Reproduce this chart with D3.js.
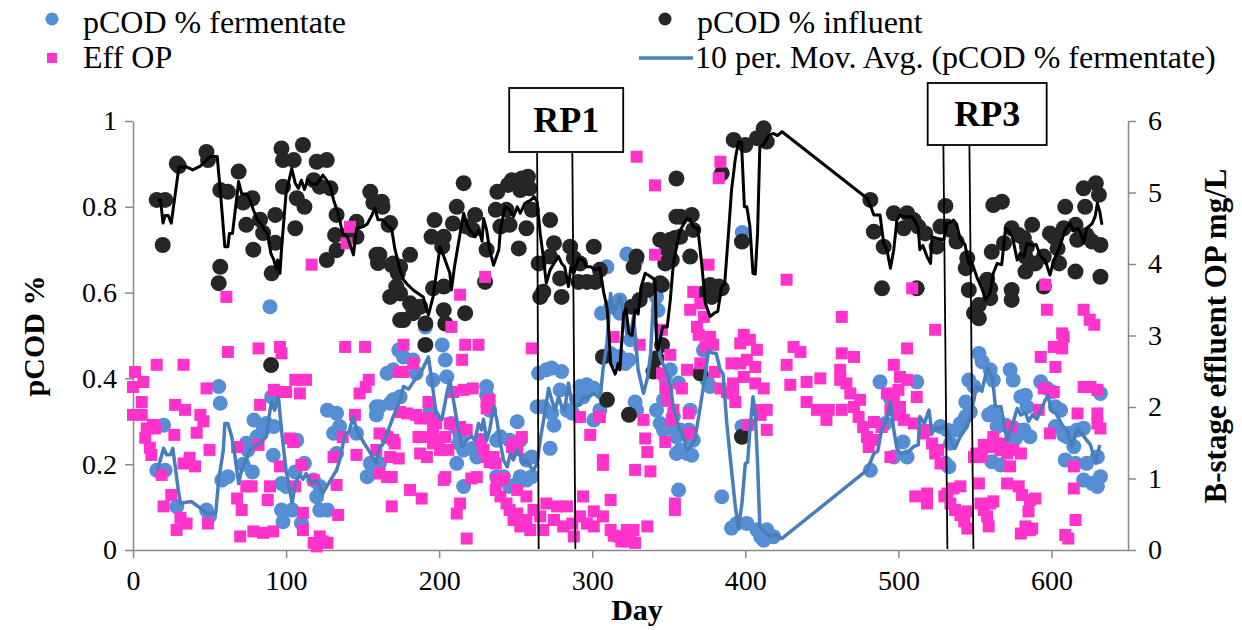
<!DOCTYPE html>
<html><head><meta charset="utf-8">
<script src="https://cdn.jsdelivr.net/npm/d3@7"></script>
<style>
html,body{margin:0;padding:0;background:#fff;}
svg{display:block;}
</style></head><body>
<svg id="chart" width="1242" height="630" font-family="'Liberation Serif','Times New Roman',serif"></svg>
<script>
// pCOD fraction of the fermentate, [day, fraction]
const fermentate = [
[15.5,0.186],[21,0.186],[20,0.291],[28.6,0.101],[48,0.093],[50,0.078],[56,0.381],[57,0.342],[58,0.163],[62,0.171],
[72,0.2],[74,0.249],[75,0.233],[78,0.182],[79,0.303],[81,0.264],[85,0.28],[87,0.295],[90.6,0.357],[92,0.288],
[91.6,0.221],[89.5,0.567],[97,0.155],[100,0.148],[97,0.093],[98,0.066],[104,0.093],[110,0.063],[106,0.182],[107,0.256],
[112,0.202],[118,0.163],[120,0.124],[122,0.148],[122,0.093],[127,0.093],[127,0.326],[131,0.272],[133,0.319],[133,0.225],
[135,0.288],[146,0.272],[153,0.171],[155,0.202],[157,0.194],[159,0.315],[159,0.334],[166,0.412],[168,0.342],[170,0.42],
[170,0.35],[173.6,0.466],[161,0.334],[161,0.202],[166,0.264],[174.5,0.357],[176.7,0.45],[183,0.443],[185,0.412],[191,0.52],
[194,0.326],[196,0.311],[196,0.396],[202,0.478],[204,0.443],[205,0.404],[208,0.295],[211.5,0.284],[213.7,0.268],[212.7,0.249],
[216,0.233],[211.5,0.202],[216,0.148],[222,0.237],[227,0.256],[224.6,0.217],[231,0.381],[231,0.361],[233,0.326],[237.6,0.256],
[240,0.264],[237.6,0.171],[242,0.171],[246,0.148],[251,0.155],[251,0.299],[246,0.256],[248.6,0.241],[253,0.256],[257,0.21],
[260.5,0.217],[253,0.171],[257,0.163],[260.5,0.171],[265,0.412],[270,0.42],[273.5,0.424],[280,0.416],[264,0.334],[268,0.334],
[273.5,0.319],[275,0.291],[279,0.373],[283.5,0.326],[287,0.319],[272.5,0.237],[292,0.381],[296.5,0.385],[301,0.377],[294,0.357],
[290,0.35],[301,0.303],[305,0.326],[312,0.458],[315,0.443],[318,0.451],[321.6,0.435],[324,0.443],[328,0.345],[329,0.326],
[342,0.326],[346.6,0.35],[349,0.288],[353,0.311],[347.7,0.404],[351,0.42],[356.4,0.389],[355,0.264],[357.5,0.28],[355,0.225],
[356.4,0.14],[306,0.552],[312,0.567],[318,0.583],[318,0.552],[309.6,0.66],[322.6,0.69],[329,0.676],[342,0.59],[343,0.559],
[325,0.49],[344.4,0.295],[346.6,0.28],[357.5,0.233],[362,0.225],[365,0.221],[364,0.326],[363,0.28],[366,0.256],[384.6,0.124],
[377,0.381],[372.7,0.466],[370.6,0.412],[375,0.396],[397.8,0.288],[398,0.74],[391,0.051],[394.5,0.062],[401,0.062],[407.6,0.047],
[412,0.023],[414,0.047],[418.5,0.031],[410,0.031],[481.7,0.186],[488,0.392],[494.8,0.354],[491.5,0.295],[497,0.217],[503,0.252],
[505.7,0.217],[512,0.392],[534,0.249],[527.5,0.288],[531.8,0.28],[530.7,0.202],[533,0.194],[538,0.28],[540.5,0.295],[544,0.311],
[544,0.345],[547,0.322],[546,0.396],[549.4,0.381],[552.6,0.458],[554.7,0.439],[560,0.42],[562,0.396],[559,0.315],[562,0.322],
[565.6,0.299],[570,0.291],[564.5,0.288],[561,0.206],[566.7,0.198],[573,0.42],[575,0.396],[580,0.357],[583,0.361],[584,0.334],
[586,0.264],[582,0.28],[576.5,0.26],[577.6,0.28],[593,0.392],[597,0.377],[600.4,0.369],[602.6,0.334],[606,0.326],[602.6,0.288],
[608,0.268],[610,0.264],[612,0.272],[609,0.21],[615.7,0.202],[614.6,0.241],[616.8,0.28],[621,0.284],[623,0.202],[630,0.217],
[632,0.365],[621,0.163],[626.6,0.155],[630,0.148],[632,0.171]
];

// pCOD fraction of the influent, [day, fraction]
const influent = [
[15.5,0.816],[21,0.816],[19.4,0.711],[28.6,0.901],[30,0.895],[48,0.928],[49,0.909],[69,0.882],[57,0.839],[62,0.835],
[57,0.66],[56,0.622],[72,0.81],[78,0.82],[74,0.758],[78.6,0.70],[83,0.77],[85,0.739],[93,0.781],[93,0.716],
[90.6,0.645],[97,0.936],[98,0.909],[105,0.909],[111,0.944],[98,0.847],[106,0.75],[107,0.82],[112,0.80],[118,0.862],
[120,0.905],[126.6,0.909],[122,0.847],[129,0.843],[126.6,0.676],[133,0.781],[132,0.734],[133,0.699],[140,0.734],[146,0.73],
[146,0.765],[155,0.835],[157,0.81],[162.5,0.812],[159,0.688],[160,0.669],[168,0.762],[169,0.664],[173,0.645],[168,0.59],
[172,0.614],[174.5,0.536],[90.2,0.431],[163,0.80],[167,0.758],[161,0.688],[170,0.668],[174.5,0.66],[181,0.688],[174.5,0.598],
[176.7,0.536],[183,0.552],[181,0.575],[187.6,0.567],[191,0.478],[191,0.528],[196,0.61],[195,0.73],[197,0.769],[203,0.73],
[202,0.707],[203,0.559],[204,0.528],[203,0.614],[216,0.855],[211.5,0.80],[209,0.761],[217,0.552],[223.5,0.781],[222,0.746],
[218,0.754],[231,0.70],[230,0.625],[238,0.835],[237,0.793],[245,0.851],[244,0.793],[240,0.754],[246,0.758],[247.5,0.862],
[254,0.866],[258,0.87],[253,0.839],[259,0.843],[260.5,0.793],[252,0.703],[257,0.75],[272.5,0.769],[265,0.668],[268,0.602],
[266,0.59],[280,0.59],[279,0.633],[275,0.715],[272.5,0.684],[285.6,0.707],[288,0.68],[292,0.668],[301,0.707],[291,0.625],
[296.5,0.625],[302,0.625],[305,0.653],[327,0.66],[329,0.684],[336,0.606],[331,0.583],[326,0.567],[345.5,0.618],[347.7,0.668],
[349,0.70],[351,0.723],[354,0.727],[355,0.777],[355,0.866],[307,0.45],[309.6,0.35],[324,0.315],[342,0.447],[345.6,0.478],
[340,0.416],[344.4,0.723],[349,0.715],[352,0.676],[357.5,0.73],[357.5,0.777],[365,0.781],[366,0.746],[364,0.684],[344.4,0.622],
[377,0.618],[382.6,0.614],[384.6,0.61],[378,0.59],[372.7,0.598],[384.6,0.878],[392.4,0.956],[400,0.944],[407.6,0.96],[412,0.983],
[414,0.952],[397.8,0.719],[370.6,0.412],[397.8,0.264],[481.7,0.816],[484,0.742],[490.4,0.707],[489.3,0.61],[497,0.785],[505.7,0.785],
[503.5,0.75],[510,0.769],[513,0.754],[512,0.61],[517.6,0.738],[525,0.707],[530.7,0.802],[531.8,0.754],[538,0.719],[527.5,0.754],
[534,0.746],[545,0.68],[544,0.657],[546,0.606],[552.6,0.571],[552.6,0.54],[549.4,0.552],[558,0.63],[560,0.61],[560,0.587],
[561,0.695],[569,0.715],[562,0.804],[567.6,0.812],[574,0.75],[578.6,0.734],[582,0.727],[587.4,0.758],[584,0.707],[583,0.684],
[574,0.606],[574,0.583],[583,0.649],[589.5,0.668],[595,0.684],[599,0.738],[601.5,0.73],[605,0.668],[604,0.703],[595,0.614],
[608,0.75],[609,0.80],[615.7,0.758],[616.8,0.723],[615.7,0.649],[622,0.80],[623,0.734],[626.6,0.719],[632,0.711],[632,0.637],
[621,0.843],[629,0.855],[631,0.828]
];

// B-stage effluent orthophosphate, [day, mg/L]
const effOP = [
[1.3,2.49],[0,2.28],[6.7,2.35],[5.7,2.07],[0,1.89],[5.7,1.89],[9,1.70],[13,1.75],[8,1.57],[11,1.43],
[12,1.33],[15.5,2.59],[14.4,1.70],[18.7,1.05],[20,0.61],[25,0.77],[27,1.61],[27.5,2.03],[31,0.45],[28.5,0.28],
[34,1.96],[35,0.37],[33,2.59],[33,1.21],[37,1.29],[40.5,1.17],[41.6,1.64],[44,1.89],[46,1.80],[48,2.26],
[50,1.40],[49,0.37],[62,2.77],[68,1.44],[68,0.72],[71,0.56],[70,0.19],[74,0.89],[77.5,0.89],[82,2.82],
[83,2.03],[82,1.47],[78.6,0.26],[85,0.24],[88,0.70],[89.5,0.89],[91.6,0.26],[96,2.84],[97,2.75],[92,2.24],
[97,2.21],[100,2.21],[96,1.17],[102.6,1.56],[104.6,1.51],[106,2.38],[113,2.38],[109,2.19],[106,0.89],[110,1.19],
[111,0.52],[111,0.28],[118,0.1],[122,0.19],[127,0.1],[120,0.05],[124,0.12],[118,0.98],[133,0.91],[134,0.49],
[131,1.30],[138.6,2.84],[151.6,2.84],[137,1.58],[145,1.89],[146,1.33],[148,2.19],[152,2.28],[154,2.38],[159,1.40],
[169,0.61],[116.7,3.99],[141.8,4.52],[139.5,4.29],[61,3.54],
[176.7,2.87],[183,2.61],[176.7,2.49],[173.6,2.49],[217,2.87],[225.7,2.87],[215,2.66],[260.5,2.82],[193,2.07],[209,2.21],
[216,2.24],[222,2.26],[231,2.07],[233,2.10],[231,1.98],[174.5,1.93],[179,1.91],[185,1.89],[187.6,1.84],[194,1.84],
[198,1.77],[161,1.63],[166,1.58],[171,1.49],[170,1.54],[168,1.30],[173.6,1.28],[161,1.07],[166,1.02],[169,1.02],
[186.5,1.58],[193,1.58],[196,1.68],[199.6,1.54],[204,1.58],[206,1.40],[200.6,1.40],[196,1.49],[187.6,1.35],[192,1.30],
[207,1.77],[213.7,1.72],[218,1.68],[203,0.98],[204,1.02],[221,1.00],[224.6,1.02],[227,1.54],[229,1.40],[231,1.30],
[235.5,1.30],[237,1.21],[233,1.23],[237.6,0.98],[242,1.00],[237,0.84],[240,0.75],[248.6,1.49],[254,1.58],[251,1.40],
[247.5,1.44],[251,0.84],[257,0.75],[244,0.65],[246,0.56],[251,0.51],[248.6,0.42],[253,0.33],[257,0.42],[261.6,0.56],
[259.5,0.28],[266,0.47],[268,0.28],[270,0.65],[275,0.42],[277,0.61],[281,0.33],[283.5,0.61],[287,0.37],[288,0.19],
[292,0.47],[294,0.75],[296.5,0.37],[301,0.54],[301,0.33],[307,0.47],[312,0.70],[312,0.28],[317,0.19],[322.6,0.28],
[327,0.28],[321.6,0.12],[336,0.33],[213.7,0.65],[211.5,0.51],[218,0.16],[181,0.84],[188.6,0.72],[292,1.86],[305,1.86],
[298.7,1.61],[307,1.26],[307,1.19],[333.5,1.82],[334.6,1.56],[336,1.37],[328,1.12],[338,1.10],[347.7,1.51],[349,2.10],
[353,1.96],[352,1.82],[351,2.73],[345.6,2.47],[349,2.24],[331,2.87],[354,0.65],[354,0.56],[319,0.12],[325,0.15],
[328,0.1],[314,0.2],
[329,5.50],[341,5.10],[230,3.82],[213.7,3.57],[208,3.12],[341,4.13],[314,2.98],[345.5,3.08],
[369.5,3.01],[377,2.98],[374,2.84],[379,2.87],[399,3.01],[403,2.94],[407.6,2.80],[396.7,2.89],[401,2.66],[396.7,2.61],
[406.5,2.56],[391,2.61],[399,2.42],[362,2.52],[370.6,2.61],[380,2.49],[347.7,2.28],[358.6,2.26],[383.7,2.26],[388,2.21],
[392,2.33],[392,2.19],[393.5,2.07],[406.5,2.33],[412,2.26],[414,1.96],[407.6,1.96],[363,1.91],[364,1.63],[402,1.75],
[410,1.89],[414,1.68],[427,2.59],[431.5,2.84],[436,2.77],[429.4,2.31],[440,2.35],[449,2.40],[440,2.07],[446.8,1.96],
[454.5,1.96],[453,1.82],[463,2.75],[471,2.70],[462,2.52],[462,2.38],[466,2.33],[468.6,2.19],[463,1.96],[471,2.00],
[475,2.10],[474,1.86],[477,1.72],[479.5,1.58],[484,1.79],[480.6,1.44],[484,1.54],[489,1.72],[494.8,1.30],[497,2.59],
[501,2.42],[505.7,2.82],[505.7,2.38],[500,2.24],[497,2.10],[501,2.00],[492.5,2.19],[494.8,1.96],[501,1.89],[503.5,1.82],
[512,2.14],[510,1.77],[516.5,1.63],[518.7,1.68],[522,1.49],[524,1.35],[527.5,1.21],[526,1.40],[511,0.75],[518.7,0.79],
[518.7,0.65],
[383.7,5.43],[382.6,5.20],[427,3.78],[376,3.99],[366,3.61],[364,3.36],[370.6,3.45],[368.4,3.12],[373,3.26],[463,3.26],
[509,3.66],[524,3.08],
[593,2.70],[601.5,2.84],[608,2.98],[607,2.82],[602.6,2.56],[595,2.26],[601.5,2.21],[591.7,1.96],[617,1.91],[621,2.28],
[625.5,2.28],[630,2.24],[630,1.91],[632,1.70],[630,1.77],[599,1.63],[574,1.72],[562,1.58],[564.5,1.44],[569,1.49],
[571,1.35],[575,1.40],[580,1.35],[566.7,1.40],[560,1.44],[555.8,1.47],[551,1.35],[554.7,1.30],[549.4,1.30],[573,1.17],
[571,0.93],[578.6,0.89],[580.8,0.77],[586,0.70],[589.5,0.72],[585,0.54],[583,0.33],[587.4,0.30],[614.6,0.86],[615.7,0.42],
[609,0.21],[611,0.16],[614.6,1.17],[536,0.86],[540.5,0.89],[532,0.79],[530,0.75],[534,0.65],[537,0.56],[540.5,0.49],
[545,0.54],[543,0.40],[545,0.30],[552.6,0.93],[553.6,0.65],[555.8,0.56],[558,0.47],[559,0.33],[560,0.65],[562,0.68],
[580,0.23],[586,0.28],[596,3.71],[597,3.36],[607,3.03],[621,3.36],[625,3.22],[628,3.15]
];

// 10-point moving average of the fermentate pCOD fraction, [day, fraction]
const fermentateAvg = [
[16,0.186],[20,0.237],[22,0.222],[24.5,0.222],[26,0.237],[29.6,0.14],[31,0.109],[38,0.113],[44,0.098],[48,0.085],
[54,0.085],[56,0.163],[59,0.233],[60,0.295],[62,0.295],[64.5,0.264],[66.7,0.217],[69,0.155],[71,0.187],[74,0.21],
[76,0.23],[79,0.241],[83,0.249],[87,0.264],[89.5,0.326],[90.6,0.345],[92.5,0.326],[95,0.357],[97,0.28],[100,0.186],
[104,0.109],[106,0.155],[109,0.175],[111,0.165],[113,0.178],[117,0.155],[120,0.163],[124,0.132],[129,0.163],[133,0.186],
[135,0.21],[138.6,0.272],[141,0.275],[144,0.311],[146,0.28],[151,0.249],[156,0.221],[158.6,0.202],[161,0.241],[163,0.245],
[166,0.272],[170,0.311],[174.5,0.35],[176.7,0.381],[180,0.375],[184,0.396],[187.6,0.41],[191,0.435],[193,0.45],[196,0.373],
[198,0.319],[201.7,0.303],[205,0.365],[207,0.396],[209,0.357],[212.6,0.28],[214.8,0.241],[217,0.25],[219,0.26],[221,0.265],
[223.5,0.256],[225.7,0.295],[227.6,0.28],[229,0.305],[231,0.256],[233,0.28],[235.5,0.334],[237.6,0.305],[240,0.249],[242,0.21],
[244.5,0.194],[246.5,0.225],[248.5,0.21],[251,0.233],[253,0.218],[255,0.202],[257.5,0.21],[259.5,0.194],[261.6,0.186],[264,0.202],
[266,0.256],[269,0.319],[271.5,0.377],[273.5,0.35],[275.8,0.326],[278,0.357],[280,0.335],[282,0.326],[284.5,0.389],[286.5,0.345],
[289,0.334],[292,0.34],[294,0.357],[297,0.355],[301,0.365],[304,0.356],[305.5,0.365],[307,0.42],[309.6,0.482],[312,0.598],
[314,0.552],[316,0.57],[318,0.59],[320,0.56],[322.6,0.505],[324.8,0.497],[327,0.544],[330,0.42],[333.5,0.365],[336,0.40],
[338,0.45],[340,0.583],[342,0.505],[344.4,0.45],[347.7,0.42],[349,0.412],[351,0.38],[353,0.334],[356.4,0.288],[359,0.27],
[362,0.233],[364,0.24],[367,0.256],[370.6,0.334],[373,0.389],[376,0.466],[378,0.46],[381,0.458],[383.6,0.42],[385.5,0.41],
[387.9,0.295],[391,0.186],[393.5,0.101],[395.6,0.051],[397.8,0.109],[400,0.202],[401.5,0.204],[403,0.28],[405,0.357],[406.5,0.32],
[408,0.202],[409.5,0.054],[412,0.045],[416,0.031],[420,0.035],[422,0.03],[424,0.027],[479.5,0.186],[484,0.225],[486.5,0.23],
[489,0.28],[492.5,0.303],[494.8,0.345],[497,0.28],[499,0.237],[501.5,0.225],[506,0.228],[510,0.241],[513,0.245],[514,0.311],
[517,0.295],[520,0.326],[522,0.272],[524.5,0.285],[526.5,0.28],[529.6,0.288],[532,0.28],[534,0.256],[537,0.237],[540.5,0.265],
[545,0.288],[548,0.326],[551,0.381],[554.5,0.37],[558,0.424],[561.5,0.40],[563.4,0.334],[567,0.334],[571,0.256],[574,0.285],
[577.6,0.33],[580,0.315],[583,0.32],[585,0.30],[587.5,0.315],[590.5,0.305],[593,0.326],[596,0.35],[597.8,0.36],[600,0.325],
[603,0.318],[607,0.291],[610,0.28],[613.5,0.241],[617,0.284],[620,0.27],[623,0.256],[625.5,0.245],[629,0.202],[631.5,0.245]
];

// 10-point moving average of the influent pCOD fraction, [day, fraction]
const influentAvg = [
[16,0.816],[18,0.816],[19.6,0.762],[21,0.78],[23,0.78],[25,0.762],[30,0.893],[35,0.893],[39,0.886],[44,0.895],
[50.3,0.917],[55,0.917],[57,0.839],[60,0.707],[62,0.707],[63,0.738],[65,0.738],[69,0.859],[71,0.83],[74,0.83],
[76,0.82],[78.6,0.793],[81,0.772],[84,0.758],[86,0.745],[88,0.738],[90,0.692],[92,0.676],[93.5,0.655],[94.5,0.676],
[96,0.645],[97,0.70],[100,0.832],[103.7,0.889],[106,0.855],[108,0.843],[110,0.862],[112,0.84],[114,0.862],[117,0.853],
[120,0.853],[122,0.862],[124,0.874],[126.5,0.862],[129,0.847],[131,0.816],[134,0.785],[137,0.738],[140,0.73],[144,0.688],
[146,0.75],[150.6,0.754],[153,0.76],[156,0.78],[158,0.797],[160,0.77],[163,0.77],[166,0.757],[169,0.748],[171,0.703],
[174.5,0.653],[176.7,0.63],[179,0.62],[183,0.606],[189.6,0.59],[191,0.57],[193,0.548],[196,0.59],[200.6,0.707],[203,0.685],
[207,0.645],[208,0.606],[210,0.66],[213.7,0.738],[216,0.785],[218,0.76],[220,0.746],[223.5,0.73],[226,0.746],[228,0.72],
[229,0.773],[231,0.746],[233,0.70],[235.5,0.664],[239,0.70],[240,0.746],[243,0.80],[246,0.793],[248.6,0.777],[251,0.80],
[253,0.785],[256,0.808],[258,0.812],[260,0.816],[262,0.824],[264,0.812],[266,0.738],[268,0.684],[270,0.622],[272.5,0.653],
[275,0.668],[278,0.684],[280,0.668],[282,0.66],[284.5,0.614],[286,0.66],[288,0.645],[291,0.68],[294,0.676],[296.5,0.66],
[299,0.66],[302,0.653],[305,0.657],[307.5,0.6],[309.6,0.567],[311,0.5],[312,0.435],[315,0.41],[317,0.435],[318,0.42],
[320.5,0.55],[322,0.563],[324,0.505],[326,0.5],[328,0.56],[330,0.55],[332,0.614],[334.6,0.645],[337,0.64],[341,0.63],
[342,0.49],[343,0.466],[346,0.52],[349,0.52],[351,0.583],[353,0.668],[356.4,0.73],[357.5,0.746],[362,0.773],[364,0.77],
[366,0.754],[369,0.75],[371.7,0.66],[373.9,0.575],[377,0.544],[380,0.553],[382,0.556],[384.6,0.614],[386.5,0.62],[389,0.738],
[391,0.839],[393.5,0.913],[395.6,0.952],[397.5,0.95],[399.4,0.80],[401,0.80],[403,0.754],[405,0.645],[406.5,0.643],[408,0.738],
[409.5,0.94],[412,0.945],[415.4,0.967],[418.5,0.971],[421,0.966],[424,0.975],[479.5,0.82],[482,0.80],[484,0.781],[488,0.781],
[490.4,0.715],[492.5,0.70],[494.8,0.657],[497,0.70],[499,0.769],[501,0.781],[505.7,0.776],[509,0.777],[511,0.765],[513,0.75],
[514,0.70],[516,0.71],[518.7,0.684],[521,0.668],[522,0.73],[525.5,0.726],[529.6,0.723],[531.8,0.761],[535,0.765],[536,0.769],
[538,0.76],[540.5,0.723],[543.5,0.712],[546,0.668],[548,0.67],[551.6,0.633],[554.5,0.61],[557,0.583],[560,0.6],[562,0.645],
[564.5,0.668],[567.5,0.665],[570,0.75],[572,0.745],[574.5,0.73],[577.6,0.676],[580,0.69],[582,0.683],[584,0.715],[587.5,0.71],
[590,0.712],[593,0.684],[596,0.675],[599,0.641],[601.5,0.675],[605,0.703],[609,0.746],[612,0.761],[614.5,0.745],[617,0.75],
[619,0.74],[621,0.715],[623,0.75],[626.6,0.761],[628.5,0.777],[630,0.808],[631.5,0.79],[633,0.758]
];

// axis ticks
const dayTicks = [0, 100, 200, 300, 400, 500, 600];
const pcodTicks = [0, 0.2, 0.4, 0.6, 0.8, 1];
const opTicks = [0, 1, 2, 3, 4, 5, 6];

// research periods: boundary days (top, bottom of each marker line) and label box centre day
const periods = [
  {label: "RP1", lines: [[264, 265], [287, 289]], boxDay: 283, boxW: 114, boxTop: 88, boxH: 64},
  {label: "RP3", lines: [[529.4, 532], [546.4, 549]], boxDay: 558, boxW: 119, boxTop: 83, boxH: 62}
];

const FONT = "'Liberation Serif','Times New Roman',serif";
const colors = {ferm: "#558ED5", infl: "#262626", op: "#FF33CC", fermAvg: "#4A7EBB", inflAvg: "#000000", axis: "#898989"};

const svg = d3.select("#chart");
const x = d3.scaleLinear().domain([0, 650]).range([133, 1128]);
const yL = d3.scaleLinear().domain([0, 1]).range([550, 121]);
const yR = d3.scaleLinear().domain([0, 6]).range([550, 121]);

// axes
function styleAxis(g) {
  g.attr("font-family", FONT);
  g.select(".domain").attr("stroke", colors.axis).attr("stroke-width", 1.5);
  g.selectAll(".tick line").attr("stroke", colors.axis).attr("stroke-width", 1.5);
  g.selectAll(".tick text").attr("fill", "#000").attr("font-family", FONT).attr("font-size", 28);
}
svg.append("g").attr("transform", "translate(0,550)")
  .call(d3.axisBottom(x).tickValues(dayTicks).tickSize(8).tickPadding(12).tickSizeOuter(0).tickFormat(d => String(d)))
  .call(styleAxis);
svg.append("g").attr("transform", "translate(133,0)")
  .call(d3.axisLeft(yL).tickValues(pcodTicks).tickSize(8).tickPadding(8).tickSizeOuter(0).tickFormat(d => String(d)))
  .call(styleAxis);
svg.append("g").attr("transform", "translate(1128,0)")
  .call(d3.axisRight(yR).tickValues(opTicks).tickSize(8).tickPadding(12).tickSizeOuter(0).tickFormat(d => String(d)))
  .call(styleAxis);

// axis titles
function title(t) { return t.attr("font-family", FONT).attr("font-weight", "bold").attr("text-anchor", "middle").attr("fill", "#000"); }
svg.append("text").attr("x", 637).attr("y", 620).attr("font-size", 30).call(title).text("Day");
svg.append("text").attr("transform", "translate(44,336) rotate(-90)").attr("font-size", 30).call(title).text("pCOD %");
svg.append("text").attr("transform", "translate(1226,336) rotate(-90)").attr("font-size", 31).call(title).text("B-stage effluent OP mg/L");

// scatter series
const plot = svg.append("g");
plot.append("g").selectAll("circle").data(fermentate).join("circle")
  .attr("cx", d => x(d[0])).attr("cy", d => yL(d[1])).attr("r", 7.5).attr("fill", colors.ferm);
plot.append("g").selectAll("circle").data(influent).join("circle")
  .attr("cx", d => x(d[0])).attr("cy", d => yL(d[1])).attr("r", 8).attr("fill", colors.infl);
plot.append("g").selectAll("rect").data(effOP).join("rect")
  .attr("x", d => x(d[0]) - 6).attr("y", d => yR(d[1]) - 6).attr("width", 12).attr("height", 12).attr("fill", colors.op);

// moving averages
const lineL = d3.line().x(d => x(d[0])).y(d => yL(d[1]));
plot.append("path").datum(fermentateAvg).attr("d", lineL).attr("fill", "none")
  .attr("stroke", colors.fermAvg).attr("stroke-width", 3.5).attr("stroke-linejoin", "round");
plot.append("path").datum(influentAvg).attr("d", lineL).attr("fill", "none")
  .attr("stroke", colors.inflAvg).attr("stroke-width", 3).attr("stroke-linejoin", "round");

// research period markers
periods.forEach(p => {
  const g = svg.append("g");
  const boxBottom = p.boxTop + p.boxH;
  p.lines.forEach(l => {
    g.append("line").attr("x1", x(l[0])).attr("y1", boxBottom).attr("x2", x(l[1])).attr("y2", 549)
      .attr("stroke", "#000").attr("stroke-width", 1.8);
  });
  const cx = x(p.boxDay);
  g.append("rect").attr("x", cx - p.boxW / 2).attr("y", p.boxTop).attr("width", p.boxW).attr("height", p.boxH)
    .attr("fill", "#fff").attr("stroke", "#000").attr("stroke-width", 1.8);
  g.append("text").attr("x", cx).attr("y", p.boxTop + p.boxH / 2 + 12).attr("text-anchor", "middle")
    .attr("font-family", FONT).attr("font-size", 36).attr("font-weight", "bold").text(p.label);
});

// legend
const legend = svg.append("g").attr("font-family", FONT).attr("font-size", 32).attr("fill", "#000");
legend.append("circle").attr("cx", 52).attr("cy", 19).attr("r", 6.5).attr("fill", colors.ferm);
legend.append("text").attr("x", 83).attr("y", 33).text("pCOD % fermentate");
legend.append("rect").attr("x", 47).attr("y", 53).attr("width", 10).attr("height", 10).attr("fill", colors.op);
legend.append("text").attr("x", 83).attr("y", 68).text("Eff OP");
legend.append("circle").attr("cx", 665).attr("cy", 19).attr("r", 6.5).attr("fill", colors.infl);
legend.append("text").attr("x", 697).attr("y", 33).text("pCOD % influent");
legend.append("line").attr("x1", 639).attr("x2", 693).attr("y1", 58).attr("y2", 58)
  .attr("stroke", colors.fermAvg).attr("stroke-width", 3.5);
legend.append("text").attr("x", 695).attr("y", 68).text("10 per. Mov. Avg. (pCOD % fermentate)");
</script>
</body></html>
